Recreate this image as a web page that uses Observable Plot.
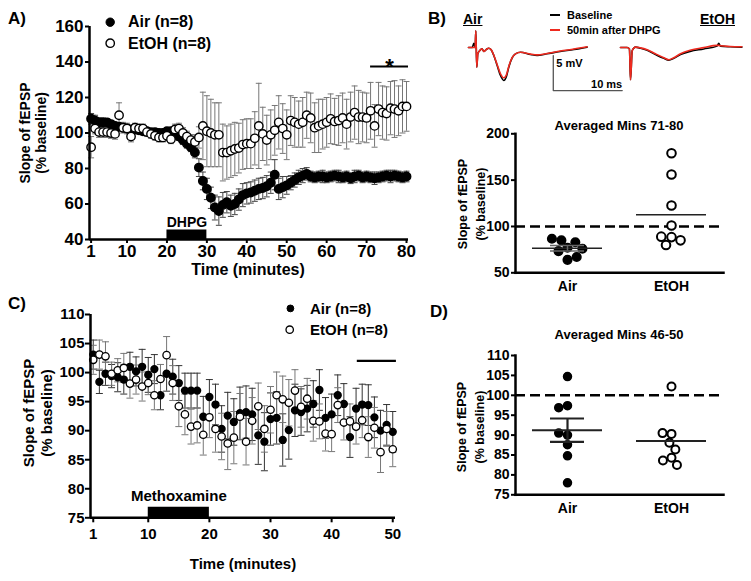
<!DOCTYPE html>
<html><head><meta charset="utf-8">
<script src="https://cdn.jsdelivr.net/npm/d3@7"></script>
<script src="https://cdn.jsdelivr.net/npm/@observablehq/plot@0.6"></script>
<style>
html,body{margin:0;padding:0;background:#fff;}
#fig{position:relative;width:751px;height:581px;overflow:hidden;background:#fff;font-family:"Liberation Sans",Arial,sans-serif;font-weight:bold;color:#000;}
.abs{position:absolute;white-space:nowrap;line-height:1;}
.ylab{position:absolute;transform:translate(-50%,-50%) rotate(-90deg);text-align:center;white-space:nowrap;}
</style></head><body><div id="fig"></div>
<script>
// ---------- Panel A data (DHPG time course) ----------
const minutesA = d3.range(1, 81);
const airA = [108,107,106,106,106,105,104,103.5,103,102.5,
  102,102,101.5,101,101,100.5,100.5,100,100,101,
  101,100.5,98,96,94,92,89,80.5,73,68.5,
  63.5,58,56,59.5,61,59,60,62.5,65,66,
  66.5,67.5,68.5,69,70,72,76.5,68.5,69.5,70.5,
  72,73.5,75,76,77,75.5,75,75.5,75.5,75,
  75.5,76,75.5,75,75.5,74.5,75.5,76,75,75.5,
  75,74.5,75,75.5,76,75.5,76,75.5,75,75.5];
const airAErr = [3,3,2.5,2.5,2,2,2,2,2,2,
  2,2,2,2,2,2,2,2,2,2,
  2,2,2,2.5,2.5,2.5,3,5,5,6,
  6,7,8,7,6,6,6,6,6.5,6,
  6,6,6,6,6,6,8.5,6,6,5,
  4,4,4,4,3.5,3,3,3,3.5,3,
  3,3,3.5,3,3,3,3.5,3,3,3,
  3,3.5,3,3,3,3.5,3,3,3,3];
const etohA = [92,102.5,100.5,100.5,100.5,100,99.5,110,103,102.5,
  98,103,102.5,102.5,100.5,99.5,98.5,97.5,97.5,98.5,
  96.5,102,102.5,100,98,96,95,97.5,104,101,
  100,99,99,89,89,90,91,91.5,93.5,94,
  94,97,104,99.5,96,99,101.5,106,102.5,99,
  107,106,105,106,110,108.5,103,104,105,106,
  108,106.5,107,108.5,105,109,111.5,109,109,108.5,
  112.5,104,113.5,111.5,111,114,113.5,112.5,115,115];
const etohAErr = [6,3,3,3,3,3,3,7,3,3,
  3,2.5,2.5,2.5,2.5,2.5,2.5,2.5,2.5,2.5,
  2.5,3,3,3,3,3,4,6,19,20,
  19,18,18,16,15,15,15,14,14,14,
  14,15,24,15,14,14,14,15,14,14,
  14,14,13,14,13,14,14,15,14,14,
  14,13,14,14,14,14,15,15,14,14,
  16,12,15,15,15,15,16,14,15,14];
const ticksAX = [1,10,20,30,40,50,60,70,80];
const ticksAY = [40,60,80,100,120,140,160];
const dhpg = [{start: 20, end: 30, label: "DHPG"}];
const sigA = [{start: 71, end: 80.5, level: 137.5, label: "*"}];

// ---------- Panel B data ----------
const groups = ["Air", "EtOH"];
const airB = [77,85,73.4,83,64,86.7,67,76];
const etohB = [179,156,122.7,101,88.5,80,85,89];
const ticksBY = [50,100,150,200];
const baselineLevel = 100;

// Example fEPSP traces (ms, mV)
const traceAirMs   = [0,0.55,0.77,0.97,1.06,1.2,1.35,1.64,1.98,2.22,2.56,2.94,3.29,3.67,4.16,4.64,5.12,5.5,5.84,6.33,6.81,7.54,9,9.95,11.4,13.3,15.3,17.2];
const traceAirBase = [0,0,0.6,0,2.4,-2.8,-0.9,-0.43,-0.2,-0.57,-0.29,-0.1,-0.33,-1.14,-2.57,-4,-4.71,-4.14,-2.81,-1.47,-0.9,-0.67,-1,-1.14,-0.9,-0.57,-0.29,0.05];
const traceAirPost = [0,0,0,0,2.4,-2.8,-0.9,-0.43,-0.2,-0.57,-0.29,-0.1,-0.33,-1.1,-2.45,-3.75,-4.33,-3.9,-2.7,-1.45,-0.9,-0.67,-0.95,-1.05,-0.85,-0.5,-0.22,0.1];
const traceEtohMs   = [0,0.97,1.3,1.45,1.7,2.17,2.9,3.87,5.07,6.28,7,7.73,8.7,10.1,12.07,14,14.25,14.5,15.9,17.6];
const traceEtohBase = [0,0,-0.2,-4.6,-0.43,0.05,-0.1,-0.4,-1.0,-1.55,-1.8,-1.55,-1.0,-0.55,-0.2,0.2,0.6,0.2,0.1,0.05];
const traceEtohPost = [0,0,-0.2,-4.6,-0.43,0.05,-0.05,-0.33,-0.9,-1.45,-1.75,-1.45,-0.9,-0.4,-0.02,0.3,0.3,0.25,0.15,0.1];
const scaleBarMs = 10, scaleBarMv = 5;
const scaleBarCorner = [12.3, -6.15];

// ---------- Panel C data (methoxamine time course) ----------
const minutesC = d3.range(1, 51);
const airC = [103.1,98.4,99.8,99.4,99.2,98.8,101,100.2,101,99.6,
  100.6,96.1,99.8,99.3,98.2,96.9,96.9,96.9,92.4,95.8,
  94.5,90.3,92.6,91.5,93,93.2,92.8,89.2,88.1,92,
  92.2,88.4,90.1,93.5,93.2,93.8,94.6,97,92.2,92.8,
  96.1,94.6,88.9,93.8,94.5,94.4,92.3,90,91,89.8];
const airCErr = [2.5,2,2,2,2.5,2.5,2.5,2.5,3,3,
  2.5,2.5,3,3,3,3,3,3,3.5,3,
  3.5,4,4,4,4.5,4.5,4.5,5,5,4.5,
  4.5,4.5,5,4.5,4,4,4,3.5,3.5,3.5,
  3.5,3.5,3.5,3.5,3.5,3.5,3.5,3.5,3.5,3.5];
const etohC = [102.2,103.1,102.8,99.8,100.4,100.8,98.1,98.8,97.6,98.2,
  96.1,98.9,103,98.2,94.2,92.8,90.7,90.9,89.3,92.3,
  90.3,89,87.8,88.8,92.4,88.1,91.7,94.2,90.3,93.6,
  96.1,95.4,94.8,96.9,94.1,95.5,91.7,91.6,89.5,89.4,
  94.4,91.4,91.6,90.7,91.8,88.9,90.5,86.3,90.3,86.8];
const etohCErr = [2.5,2.5,2.5,2,2,2.5,2.5,2.5,2.5,2,
  2.5,2.5,3.2,3,3.5,3.5,3,3,3.5,3.5,
  4,4,4.5,4.5,4,4,4,4,4,4,
  4,4,4,3.6,3.5,3.5,3.5,3,3,3,
  3,3,3,3,3,3.5,3.5,3.5,3,3];
const ticksCX = [1,10,20,30,40,50];
const ticksCY = [75,80,85,90,95,100,105,110];
const methox = [{start: 10, end: 20, label: "Methoxamine"}];
const avgWindowC = [{start: 44.2, end: 50.6, level: 102}];

// ---------- Panel D data ----------
const airD = [104.7,97.4,96.9,90,90.5,87.6,84.8,78];
const etohD = [102.2,90.3,90.5,88.1,86.4,84.3,83.6,82.5];
const ticksDY = [75,80,85,90,95,100,105,110];

// ---------- helpers ----------
const FONT = "'Liberation Sans', Arial, sans-serif";
const fig = document.getElementById("fig");
const baseStyle = (size) => ({fontFamily: FONT, fontWeight: "bold", fontSize: size + "px", background: "none", overflow: "visible", color: "#000"});
function place(el, left, top) { el.style.position = "absolute"; el.style.left = left + "px"; el.style.top = top + "px"; fig.appendChild(el); }
const cap = {draw(ctx, size) { const w = Math.sqrt(size / Math.PI); ctx.moveTo(-w, 0); ctx.lineTo(w, 0); }};
function errMarks(rows, xk, yk, ek, color, sw, capR) {
  return [
    Plot.ruleX(rows, {x: xk, y1: d => d[yk] - d[ek], y2: d => d[yk] + d[ek], stroke: color, strokeWidth: sw}),
    Plot.dot(rows, {x: xk, y: d => d[yk] + d[ek], symbol: cap, r: capR, fill: "none", stroke: color, strokeWidth: sw}),
    Plot.dot(rows, {x: xk, y: d => d[yk] - d[ek], symbol: cap, r: capR, fill: "none", stroke: color, strokeWidth: sw})
  ];
}

// ---------- Panel A ----------
const xDomainA = [0.6, 80.5], yDomainA = [40, 160];
const rowsA = minutesA.map((t, i) => ({t, air: airA[i], airErr: airAErr[i], etoh: etohA[i], etohErr: etohAErr[i]}));
const plotA = Plot.plot({
  width: 430, height: 290, marginLeft: 89, marginRight: 22, marginTop: 26, marginBottom: 51,
  style: baseStyle(17),
  x: {domain: xDomainA}, y: {domain: yDomainA},
  marks: [
    ...errMarks(rowsA, "t", "etoh", "etohErr", "#777", 1, 3),
    ...errMarks(rowsA, "t", "air", "airErr", "#444", 1, 3),
    Plot.dot(rowsA, {x: "t", y: "air", r: 4.2, fill: "#000", stroke: "#000"}),
    Plot.dot(rowsA, {x: "t", y: "etoh", r: 4.2, fill: "#fff", stroke: "#000", strokeWidth: 1.4}),
    Plot.ruleY([yDomainA[0]], {strokeWidth: 2.5}),
    Plot.ruleX([xDomainA[0]], {strokeWidth: 2.5}),
    Plot.axisX({ticks: ticksAX, tickSize: 4, tickPadding: 1, strokeWidth: 2, label: null}),
    Plot.axisY({ticks: ticksAY, tickSize: 4, tickPadding: 2, strokeWidth: 2, label: null}),
    Plot.ruleY(dhpg, {x1: "start", x2: "end", y: () => yDomainA[0], strokeWidth: 10, dy: -5}),
    Plot.text(dhpg, {x: d => (d.start + d.end) / 2, y: () => yDomainA[0], text: "label", dy: -17, fontSize: 14}),
    Plot.ruleY(sigA, {x1: "start", x2: "end", y: "level", strokeWidth: 2}),
    Plot.text(sigA, {x: d => (d.start + d.end) / 2, y: "level", text: "label", dy: 1, fontSize: 22})
  ]
});
place(plotA, 0, 0);

// ---------- Panel B traces ----------
const yDomainTr = [-7.57, 3.86];
const airTr = traceAirMs.map((t, i) => ({t, base: traceAirBase[i], post: traceAirPost[i]}));
const etohTr = traceEtohMs.map((t, i) => ({t, base: traceEtohBase[i], post: traceEtohPost[i]}));
const sb = [
  {t: scaleBarCorner[0], v: scaleBarCorner[1] + scaleBarMv},
  {t: scaleBarCorner[0], v: scaleBarCorner[1]},
  {t: scaleBarCorner[0] + scaleBarMs, v: scaleBarCorner[1]}
];
const plotTrAir = Plot.plot({
  width: 170, height: 80, marginLeft: 8, marginRight: 0, marginTop: 0, marginBottom: 0,
  style: baseStyle(11),
  x: {domain: [0, 23.5], axis: null}, y: {domain: yDomainTr, axis: null},
  marks: [
    Plot.line(airTr, {x: "t", y: "base", stroke: "#000", strokeWidth: 1.6, curve: "monotone-x"}),
    Plot.line(airTr, {x: "t", y: "post", stroke: "#ee2a1f", strokeWidth: 1.6, curve: "monotone-x"}),
    Plot.line(sb, {x: "t", y: "v", stroke: "#555", strokeWidth: 1.3, curve: "linear"}),
    Plot.text([sb[0]], {x: "t", y: "v", text: () => scaleBarMv + " mV", textAnchor: "start", dx: 3, dy: 8, fontSize: 11}),
    Plot.text([sb[2]], {x: "t", y: "v", text: () => scaleBarMs + " ms", textAnchor: "end", dy: -6, fontSize: 11})
  ]
});
place(plotTrAir, 460, 20);
const plotTrEtoh = Plot.plot({
  width: 136, height: 80, marginLeft: 5, marginRight: 0, marginTop: 0, marginBottom: 0,
  style: baseStyle(11),
  x: {domain: [0, 19], axis: null}, y: {domain: yDomainTr, axis: null},
  marks: [
    Plot.line(etohTr, {x: "t", y: "base", stroke: "#000", strokeWidth: 1.6, curve: "monotone-x"}),
    Plot.line(etohTr, {x: "t", y: "post", stroke: "#ee2a1f", strokeWidth: 1.6, curve: "monotone-x"})
  ]
});
place(plotTrEtoh, 615, 20);

// ---------- scatter panels (B and D) ----------
function scatterPanel(air, etoh, yDomain, yTicks, opts) {
  const airRows = air.map(v => ({group: "Air", value: v}));
  const etohRows = etoh.map(v => ({group: "EtOH", value: v}));
  const stats = [
    {group: "Air", mean: d3.mean(air), sem: d3.deviation(air) / Math.sqrt(air.length)},
    {group: "EtOH", mean: d3.mean(etoh), sem: d3.deviation(etoh) / Math.sqrt(etoh.length)}
  ];
  const semRows = stats.filter(d => d.group === "Air");
  return Plot.plot({
    width: 300, height: opts.height, marginLeft: 74, marginRight: 17, marginTop: opts.mt, marginBottom: opts.mb,
    style: baseStyle(14),
    fx: {domain: groups, padding: 0},
    y: {domain: yDomain},
    marks: [
      Plot.ruleY([baselineLevel], {strokeWidth: 2.5, strokeDasharray: "10,5"}),
      Plot.dot(airRows, Plot.dodgeX("middle", {fx: "group", y: "value", r: opts.r, fill: "#000", stroke: "#000", padding: 1})),
      Plot.dot(etohRows, Plot.dodgeX("middle", {fx: "group", y: "value", r: opts.r, fill: "#fff", stroke: "#000", strokeWidth: 2, padding: 1})),
      Plot.tickY(stats, {fx: "group", y: "mean", insetLeft: 17, insetRight: 17, strokeWidth: opts.msw, stroke: "#222"}),
      Plot.ruleX(semRows, {fx: "group", x: null, y1: d => d.mean - d.sem, y2: d => d.mean + d.sem, strokeWidth: opts.esw, stroke: opts.ecol}),
      Plot.tickY(semRows, {fx: "group", y: d => d.mean + d.sem, insetLeft: 35, insetRight: 35, strokeWidth: opts.esw, stroke: opts.ecol}),
      Plot.tickY(semRows, {fx: "group", y: d => d.mean - d.sem, insetLeft: 35, insetRight: 35, strokeWidth: opts.esw, stroke: opts.ecol}),
      Plot.frame({anchor: "left", facet: "super", strokeWidth: 2.5}),
      Plot.frame({anchor: "bottom", facet: "super", strokeWidth: 2.5}),
      Plot.axisY({ticks: yTicks, tickSize: 4, tickPadding: 2, strokeWidth: 2, label: null}),
      Plot.axisFx({anchor: "bottom", tickSize: 0, tickPadding: 8, label: null})
    ]
  });
}
const plotB = scatterPanel(airB, etohB, [50, 200], ticksBY, {height: 190, mt: 18.3, mb: 32.7, r: 4.3, msw: 1.5, esw: 1.5, ecol: "#666"});
place(plotB, 440, 115);

// ---------- Panel C ----------
const xDomainC = [0.55, 50.45], yDomainC = [75, 110];
const rowsC = minutesC.map((t, i) => ({t, air: airC[i], airErr: airCErr[i], etoh: etohC[i], etohErr: etohCErr[i]}));
const plotC = Plot.plot({
  width: 430, height: 281, marginLeft: 90, marginRight: 35, marginTop: 14, marginBottom: 63.7,
  style: baseStyle(15),
  x: {domain: xDomainC}, y: {domain: yDomainC},
  marks: [
    ...errMarks(rowsC, "t", "air", "airErr", "#333", 1, 3.5),
    ...errMarks(rowsC, "t", "etoh", "etohErr", "#777", 1, 3.5),
    Plot.dot(rowsC, {x: "t", y: "air", r: 3.4, fill: "#000", stroke: "#000"}),
    Plot.dot(rowsC, {x: "t", y: "etoh", r: 3.7, fill: "#fff", stroke: "#000", strokeWidth: 1.3}),
    Plot.ruleY([yDomainC[0]], {strokeWidth: 2.5}),
    Plot.ruleX([xDomainC[0]], {strokeWidth: 2.5}),
    Plot.axisX({ticks: ticksCX, tickSize: 5, tickPadding: 6, strokeWidth: 2, label: null}),
    Plot.axisY({ticks: ticksCY, tickSize: 5, tickPadding: 1, strokeWidth: 2, label: null}),
    Plot.ruleY(methox, {x1: "start", x2: "end", y: () => yDomainC[0], strokeWidth: 11, dy: -5.5}),
    Plot.text(methox, {x: d => (d.start + d.end) / 2, y: () => yDomainC[0], text: "label", dy: -22, fontSize: 15}),
    Plot.ruleY(avgWindowC, {x1: "start", x2: "end", y: "level", strokeWidth: 2.2})
  ]
});
place(plotC, 0, 300);

// ---------- Panel D ----------
const plotD = scatterPanel(airD, etohD, [75, 110], ticksDY, {height: 200, mt: 25, mb: 35.7, r: 4, msw: 2, esw: 2.2, ecol: "#222"});
place(plotD, 440, 330);

// ---------- HTML text: labels, titles, legends ----------
function txt(s, x, y, size, anchor = "middle", underline = false) {
  const d = document.createElement("div");
  d.className = "abs"; d.textContent = s;
  d.style.left = x + "px"; d.style.top = y + "px"; d.style.fontSize = size + "px";
  d.style.transform = anchor === "middle" ? "translate(-50%,-50%)" : "translate(0,-50%)";
  if (underline) d.style.textDecoration = "underline";
  fig.appendChild(d);
}
function ylab(lines, x, y, size, lh) {
  const d = document.createElement("div");
  d.className = "ylab";
  d.style.left = x + "px"; d.style.top = y + "px"; d.style.fontSize = size + "px"; d.style.lineHeight = lh + "px";
  lines.forEach(l => { const e = document.createElement("div"); e.textContent = l; d.appendChild(e); });
  fig.appendChild(d);
}
function marker(x, y, r, filled, sw) {
  const ns = "http://www.w3.org/2000/svg";
  const s = document.createElementNS(ns, "svg");
  const size = 2 * r + 4;
  s.setAttribute("width", size); s.setAttribute("height", size);
  s.style.position = "absolute"; s.style.left = (x - size / 2) + "px"; s.style.top = (y - size / 2) + "px";
  const c = document.createElementNS(ns, "circle");
  c.setAttribute("cx", size / 2); c.setAttribute("cy", size / 2); c.setAttribute("r", r);
  c.setAttribute("fill", filled ? "#000" : "#fff"); c.setAttribute("stroke", "#000"); c.setAttribute("stroke-width", sw);
  s.appendChild(c); fig.appendChild(s);
}
function swatch(x1, x2, y, color) {
  const d = document.createElement("div");
  d.style.position = "absolute"; d.style.left = x1 + "px"; d.style.top = (y - 1) + "px";
  d.style.width = (x2 - x1) + "px"; d.style.height = "2px"; d.style.background = color;
  fig.appendChild(d);
}

// Panel letters
txt("A)", 8, 18, 17, "start");
txt("B)", 428, 18, 17, "start");
txt("C)", 8, 303, 17, "start");
txt("D)", 430, 311, 17, "start");

// Panel A labels + legend
ylab(["Slope of fEPSP", "(% baseline)"], 33, 133, 14, 16);
txt("Time (minutes)", 248, 270, 16);
marker(110, 21.7, 4.2, true, 1);
txt("Air (n=8)", 128, 22, 16, "start");
marker(110, 43.3, 4.2, false, 1.4);
txt("EtOH (n=8)", 128, 44, 16, "start");

// Panel B labels
txt("Air", 463, 19, 14, "start", true);
txt("EtOH", 700, 19, 14, "start", true);
swatch(550, 560, 15, "#000");
txt("Baseline", 567, 15, 11, "start");
swatch(550, 560, 30, "#ee2a1f");
txt("50min after DHPG", 567, 30, 11, "start");
txt("Averaged Mins 71-80", 619, 125, 13);
ylab(["Slope of fEPSP", "(% baseline)"], 472, 204, 12.5, 18);

// Panel C labels + legend
ylab(["Slope of fEPSP", "(% baseline)"], 38, 413, 15, 18);
txt("Time (minutes)", 243, 563, 15);
marker(290, 308.3, 3.4, true, 1);
txt("Air (n=8)", 310, 308, 15, "start");
marker(290, 329.3, 3.7, false, 1.3);
txt("EtOH (n=8)", 310, 329, 15, "start");

// Panel D labels
txt("Averaged Mins 46-50", 619, 334, 13);
ylab(["Slope of fEPSP", "(% baseline)"], 471, 427, 12.5, 18);
</script></body></html>
